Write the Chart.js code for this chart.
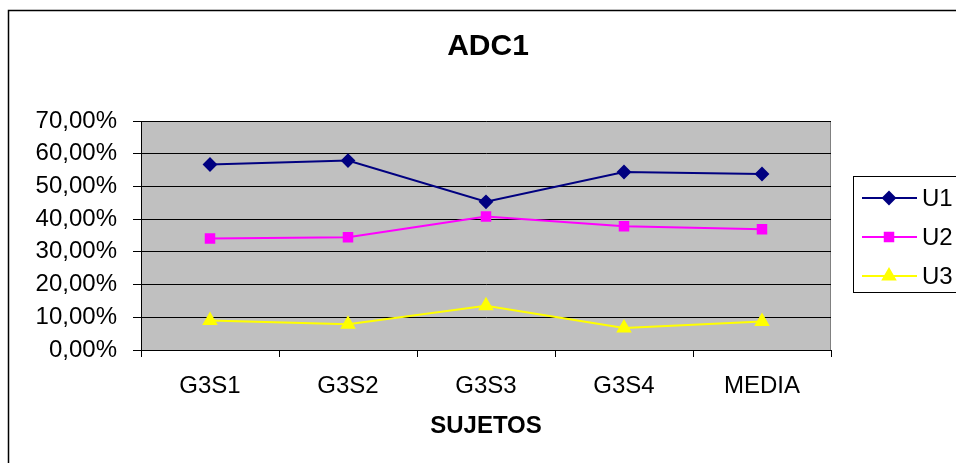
<!DOCTYPE html>
<html><head><meta charset="utf-8">
<script src="https://cdn.jsdelivr.net/npm/chart.js@4.4.0/dist/chart.umd.min.js"></script>
<style>html,body{margin:0;padding:0;background:#fff;overflow:hidden}</style>
</head><body>
<canvas id="c" width="956" height="463" style="width:956px;height:463px;display:block"></canvas>
<script>
const categories = ['G3S1', 'G3S2', 'G3S3', 'G3S4', 'MEDIA'];
const seriesNames = ['U1', 'U2', 'U3'];
const u1Values = [56.7, 57.9, 45.3, 54.4, 53.8];
const u2Values = [34.1, 34.5, 40.8, 37.8, 36.9];
const u3Values = [9.0, 7.9, 13.5, 6.7, 8.7];
const yTickValues = [0, 10, 20, 30, 40, 50, 60, 70];
const chartTitle = 'ADC1';
const xAxisTitle = 'SUJETOS';

const FONT = "'Liberation Sans', Arial, sans-serif";

const decorPlugin = {
  id: 'decor',
  beforeDraw(chart) {
    const ctx = chart.ctx, a = chart.chartArea;
    ctx.save();
    ctx.fillStyle = '#fff';
    ctx.fillRect(0, 0, chart.width, chart.height);
    ctx.strokeStyle = '#000';
    ctx.lineWidth = 1.5;
    ctx.strokeRect(8.5, 10.5, 2000, 2000);
    ctx.fillStyle = '#C0C0C0';
    ctx.fillRect(a.left, a.top, a.right - a.left, a.bottom - a.top);
    ctx.strokeStyle = '#808080';
    ctx.lineWidth = 1;
    ctx.strokeRect(a.left + 0.5, a.top + 0.5, a.right - a.left - 1, a.bottom - a.top);
    ctx.restore();
  },
  afterDraw(chart) {
    const ctx = chart.ctx;
    ctx.save();
    // title
    ctx.fillStyle = '#000';
    ctx.font = "bold 30px " + FONT;
    ctx.textAlign = 'center';
    ctx.textBaseline = 'middle';
    ctx.fillText(chartTitle, 488, 47);
    // legend box
    ctx.strokeStyle = '#000';
    ctx.lineWidth = 1;
    ctx.strokeRect(853.5, 176.5, 200, 116);
    const ys = [198, 237, 276];
    chart.data.datasets.forEach((ds, i) => {
      const y = ys[i];
      ctx.strokeStyle = ds.borderColor;
      ctx.lineWidth = 2;
      ctx.beginPath();
      ctx.moveTo(862, y);
      ctx.lineTo(917, y);
      ctx.stroke();
      ctx.fillStyle = ds.pointBackgroundColor;
      ctx.strokeStyle = ds.pointBorderColor;
      Chart.helpers.drawPoint(ctx, {pointStyle: ds.pointStyle, radius: ds.pointRadius, rotation: 0, borderWidth: 1}, 889, y);
      ctx.fillStyle = '#000';
      ctx.font = "24px " + FONT;
      ctx.textAlign = 'left';
      ctx.textBaseline = 'middle';
      ctx.fillText(ds.label, 922, y + 1);
    });
    ctx.restore();
  }
};

const mk = (label, data, color, style, r) => ({
  label, data,
  borderColor: color, backgroundColor: color,
  pointBackgroundColor: color, pointBorderColor: color,
  pointStyle: style, pointRadius: r, pointHoverRadius: r,
  borderWidth: 2, tension: 0
});

new Chart(document.getElementById('c'), {
  type: 'line',
  data: {
    labels: categories,
    datasets: [
      mk(seriesNames[0], u1Values, '#000080', 'rectRot', 6),
      mk(seriesNames[1], u2Values, '#FF00FF', 'rect', 6),
      mk(seriesNames[2], u3Values, '#FFFF00', 'triangle', 7)
    ]
  },
  options: {
    responsive: false,
    animation: false,
    layout: {padding: {top: 121, right: 125, left: 0, bottom: 0}},
    plugins: {legend: {display: false}, title: {display: false}, tooltip: {enabled: false}},
    scales: {
      x: {
        offset: true,
        grid: {display: true, drawOnChartArea: false, offset: true, tickLength: 7, color: '#000'},
        border: {color: '#000', width: 1},
        ticks: {color: '#000', font: {family: FONT, size: 24}, padding: 15, maxRotation: 0},
        title: {display: true, text: xAxisTitle, color: '#000', font: {family: FONT, size: 24, weight: 'bold'}, padding: {top: 0, bottom: 22}},
        afterFit: s => { s.height = 113; }
      },
      y: {
        min: 0, max: 70,
        afterBuildTicks: s => { s.ticks = yTickValues.map(v => ({value: v})); },
        grid: {color: '#000', lineWidth: 1, tickLength: 8},
        border: {color: '#000', width: 1},
        ticks: {color: '#000', font: {family: FONT, size: 24}, padding: 16,
          callback: v => v.toFixed(2).replace('.', ',') + '%'},
        afterFit: s => { s.width = 141; }
      }
    }
  },
  plugins: [decorPlugin]
});
</script>
</body></html>
